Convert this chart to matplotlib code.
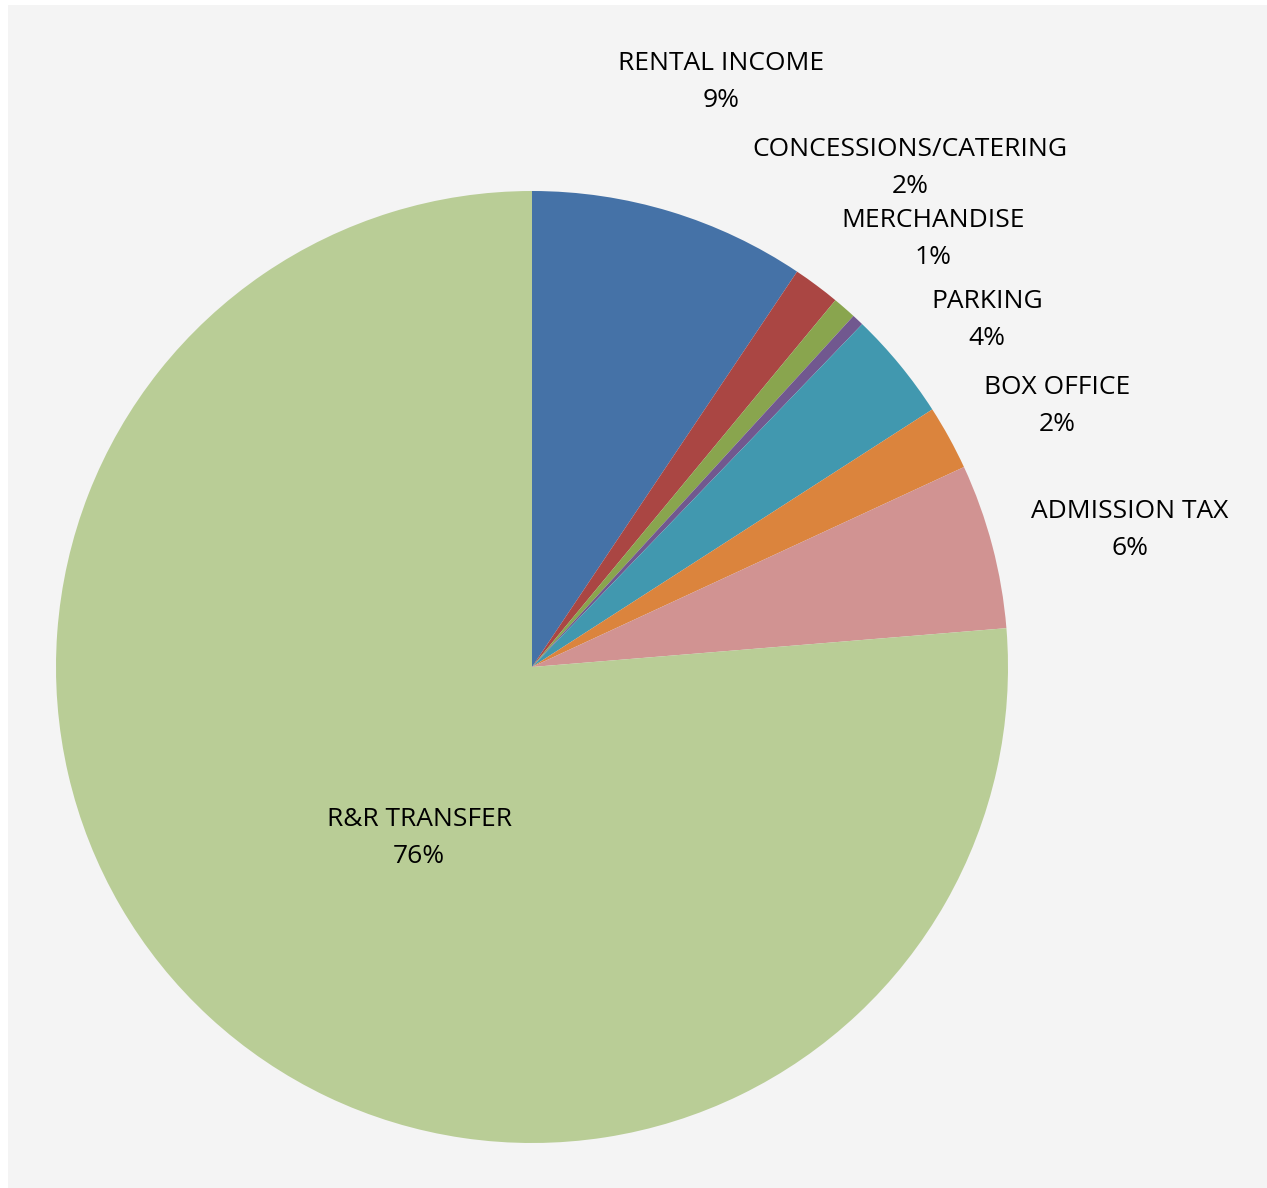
import numpy as np
import matplotlib
matplotlib.use('Agg')
import matplotlib.pyplot as plt
from matplotlib.patches import Rectangle

categories = ['RENTAL INCOME', 'CONCESSIONS/CATERING', 'MERCHANDISE', '',
              'PARKING', 'BOX OFFICE', 'ADMISSION TAX', 'R&R TRANSFER']
shares = [9.4, 1.6, 0.8, 0.4, 3.7, 2.2, 5.6, 76.3]
colors = ['#4572A7', '#AA4643', '#89A54E', '#71588F',
          '#4198AF', '#DB843D', '#D19392', '#B9CD96']

# label centres in pie-radius units (layout only)
label_pos = [(0.397, 1.229), (0.794, 1.048), (0.842, 0.899), None,
             (0.956, 0.729), (1.103, 0.548), (1.256, 0.288), (-0.237, -0.359)]

plt.rcParams['font.family'] = ['Open Sans', 'DejaVu Sans']

W, H = 1267, 1188
cx, cy, R = 532, 667, 476
fig = plt.figure(figsize=(W / 100, H / 100), dpi=100, facecolor='white')
fig.patches.append(Rectangle((8 / W, 0), 1, 1 - 5 / H, transform=fig.transFigure,
                             facecolor='#F4F4F4', edgecolor='none', zorder=-10))

ax = fig.add_axes([0, 0, 1, 1], zorder=5)
ax.set_facecolor('none')
ax.pie(shares, colors=colors, startangle=90, counterclock=False, radius=1,
       wedgeprops=dict(linewidth=0))
ax.set_xlim(-cx / R, (W - cx) / R)
ax.set_ylim(-(H - cy) / R, cy / R)
ax.set_aspect('equal')
ax.axis('off')

for name, val, pos in zip(categories, shares, label_pos):
    if not name:
        continue
    ax.text(pos[0], pos[1], f'{name}\n{round(val):.0f}%', ha='center', va='center',
            fontsize=19, color='black', linespacing=1.65)

fig.savefig('out.png', dpi=100, facecolor=fig.get_facecolor())
